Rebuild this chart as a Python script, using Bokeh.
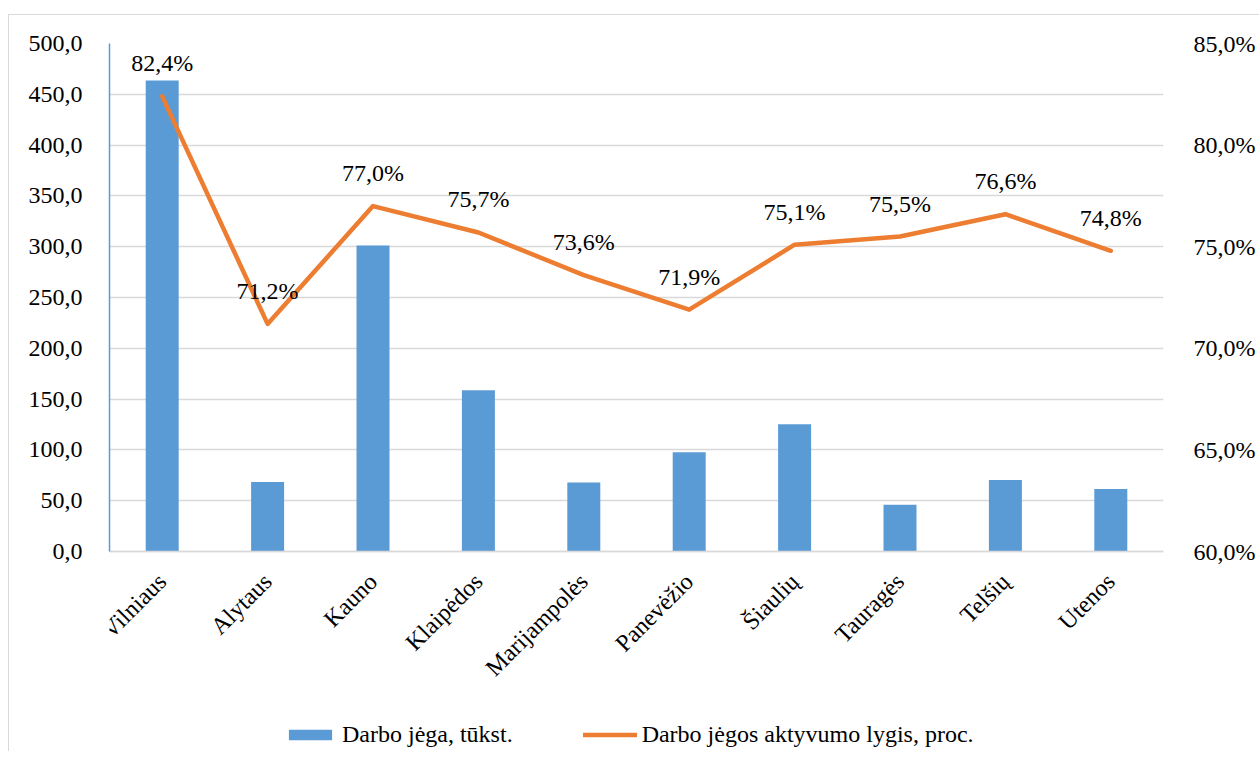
from bokeh.plotting import figure
from bokeh.models import (ColumnDataSource, Range1d, FactorRange, LinearAxis, FixedTicker,
                          Legend, LegendItem)
from bokeh.core.properties import value
from bokeh.embed import file_html
from bokeh.resources import INLINE
import math

# ---- data ----
regions = ["Vilniaus", "Alytaus", "Kauno", "Klaipėdos", "Marijampolės",
           "Panevėžio", "Šiaulių", "Tauragės", "Telšių", "Utenos"]
labour_force = [463.5, 68.5, 301.3, 158.6, 67.8, 97.7, 125.3, 46.0, 70.4, 61.5]
activity_rate = [82.4, 71.2, 77.0, 75.7, 73.6, 71.9, 75.1, 75.5, 76.6, 74.8]
left_ticks = [0, 50, 100, 150, 200, 250, 300, 350, 400, 450, 500]
right_ticks = [60, 65, 70, 75, 80, 85]
bar_name = "Darbo jėga, tūkst."
line_name = "Darbo jėgos aktyvumo lygis, proc."

FONT = "Liberation Serif"
FS = "24px"
BAR_C = "#5B9BD5"
LINE_C = "#ED7D31"
GRID_C = "#D9D9D9"

# layout: value area is 508px tall; the frame extends 200px lower to hold the legend
PLOT_H = 508
EXTRA_H = 200
L_MIN, L_MAX = left_ticks[0], left_ticks[-1]
R_MIN, R_MAX = right_ticks[0], right_ticks[-1]
l_start = L_MIN - EXTRA_H * (L_MAX - L_MIN) / PLOT_H
r_start = R_MIN - EXTRA_H * (R_MAX - R_MIN) / PLOT_H

src = ColumnDataSource(dict(
    x=regions, lf=labour_force, ar=activity_rate,
    lbl=[f"{v:.1f}".replace(".", ",") + "%" for v in activity_rate],
))

p = figure(x_range=FactorRange(*regions), y_range=Range1d(l_start, L_MAX),
           frame_width=1054, frame_height=PLOT_H + EXTRA_H,
           output_backend="svg", toolbar_location=None,
           min_border_left=100, min_border_right=96, min_border_top=28, min_border_bottom=0,
           margin=(14, 0, 0, 8),
           styles={"border-left": "1px solid #D9D9D9", "border-top": "1px solid #D9D9D9"})
p.extra_y_ranges = {"right": Range1d(r_start, R_MAX)}
p.outline_line_color = None
p.background_fill_color = "white"
p.border_fill_color = "white"

bars = p.vbar(x="x", top="lf", bottom=0, width=0.313, source=src,
              fill_color=BAR_C, line_color=None)
line = p.line(x="x", y="ar", source=src, y_range_name="right", line_color=LINE_C,
              line_width=4.5, line_join="round", line_cap="round")
p.text(x="x", y="ar", text="lbl", source=src, y_range_name="right",
       text_align="center", text_baseline="bottom", y_offset=-20,
       text_font=value(FONT), text_font_size=FS, text_color="black")

# axes
ax = p.yaxis[0]
ax.ticker = FixedTicker(ticks=left_ticks)
ax.bounds = (L_MIN, L_MAX)
ax.major_label_overrides = {t: f"{t:.1f}".replace(".", ",") for t in left_ticks}
ax.axis_line_color = BAR_C
ax.axis_line_width = 1.5
ax.major_tick_line_color = None
ax.minor_tick_line_color = None
ax.major_label_standoff = 21

rax = LinearAxis(y_range_name="right", ticker=FixedTicker(ticks=right_ticks),
                 bounds=(R_MIN, R_MAX))
rax.major_label_overrides = {t: f"{t:.1f}".replace(".", ",") + "%" for t in right_ticks}
rax.axis_line_color = None
rax.major_tick_line_color = None
rax.minor_tick_line_color = None
rax.major_label_standoff = 24
p.add_layout(rax, "right")

xax = p.xaxis[0]
xax.fixed_location = 0
xax.axis_line_color = GRID_C
xax.axis_line_width = 1.5
xax.major_tick_line_color = None
xax.minor_tick_line_color = None
xax.major_label_orientation = math.pi / 4
xax.major_label_standoff = 20

for a in (ax, rax, xax):
    a.major_label_text_font = FONT
    a.major_label_text_font_size = FS
    a.major_label_text_color = "black"

p.xgrid.grid_line_color = None
p.ygrid.grid_line_color = GRID_C
p.ygrid.grid_line_width = 1.5

legend = Legend(items=[LegendItem(label=bar_name, renderers=[bars]),
                       LegendItem(label=line_name, renderers=[line])],
                orientation="horizontal", location=(174, 3),
                glyph_width=54, glyph_height=13, spacing=70, label_standoff=5,
                padding=0, margin=0, border_line_color=None, background_fill_alpha=0,
                label_text_font=FONT, label_text_font_size=FS, label_text_color="black")
p.add_layout(legend, "center")

open("out.html", "w").write(file_html(p, INLINE))
